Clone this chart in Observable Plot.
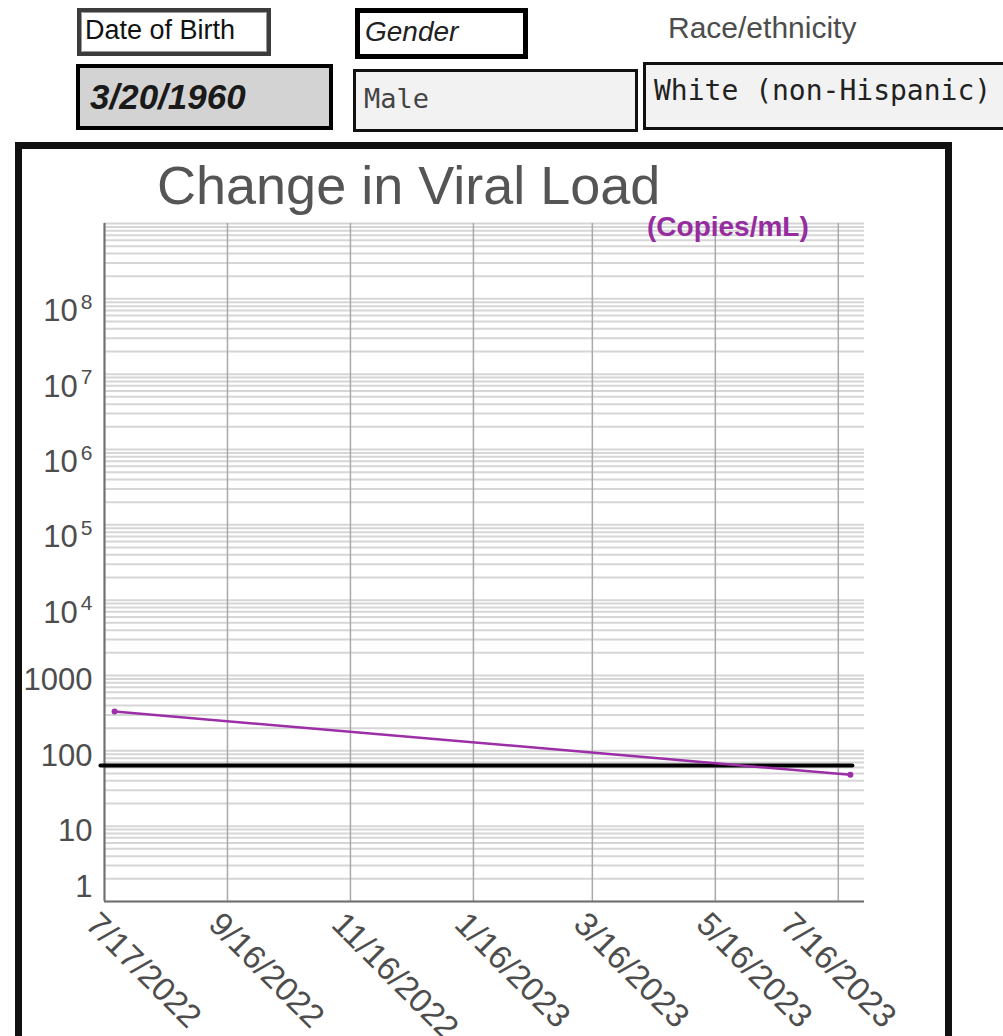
<!DOCTYPE html>
<html>
<head>
<meta charset="utf-8">
<script src="https://cdn.jsdelivr.net/npm/d3@7"></script>
<script src="https://cdn.jsdelivr.net/npm/@observablehq/plot@0.6"></script>
<style>
  body { margin: 0; background: #fff; }
  #page { position: relative; width: 1003px; height: 1036px; overflow: hidden; font-family: "Liberation Sans", Arial, sans-serif; }
  .box { position: absolute; box-sizing: border-box; }
  .t { position: absolute; white-space: nowrap; line-height: 1; }
  .mono { font-family: "DejaVu Sans Mono", "Liberation Mono", monospace; }
  #chart { position: absolute; left: 0; top: 0; }
  #frame { position: absolute; left: 15px; top: 142px; width: 937px; height: 930px; box-sizing: border-box; border: 7px solid #111; pointer-events: none; z-index: 5; }
</style>
</head>
<body>
<div id="page">
  <div class="box" style="left:77px;top:8px;width:194px;height:48px;border:4px solid #3c3c3c;box-shadow:inset 0 0 0 1px #9a9a9a;background:#fff;"></div>
  <div class="box" style="left:355px;top:8px;width:173px;height:51px;border:5px solid #000;background:#fff;"></div>
  <div class="box" style="left:76px;top:64px;width:257px;height:66px;border:4px solid #000;background:#d3d3d3;"></div>
  <div class="box" style="left:353px;top:69px;width:285px;height:63px;border:3px solid #111;background:#f2f2f2;"></div>
  <div class="box" style="left:643px;top:62px;width:370px;height:68px;border:3px solid #111;background:#f2f2f2;"></div>
  <div id="hdr"></div>
  <div id="chart"></div>
  <div class="t" id="title" style="left:157px;top:158px;font-size:54px;color:#555;"></div>
  <div class="t" id="unit" style="left:647px;top:213px;font-size:28px;font-weight:bold;color:#952c9f;"></div>
  <div id="frame"></div>
</div>
<script>
// ---- header fields ----
const fieldLabels = ["Date of Birth", "Gender", "Race/ethnicity"];
const fieldValues = ["3/20/1960", "Male", "White (non-Hispanic)"];

// ---- chart text ----
const chartTitle = "Change in Viral Load";
const unitLabel = "(Copies/mL)";

// ---- data ----
const visitDates = ["2022-07-22", "2023-07-22"];
const viralLoad = [333, 48];
const thresholdDates = ["2022-07-15", "2023-07-23"];
const thresholdLoad = [64, 64];

// ---- axes ----
const xDomain = ["2022-07-17", "2023-07-29"];
const xTickDates = ["2022-07-17", "2022-09-16", "2022-11-16", "2023-01-16", "2023-03-16", "2023-05-16", "2023-07-16"];
const yDomain = [1, 1e9];
const yTickValues = [10, 100, 1000, 1e4, 1e5, 1e6, 1e7, 1e8];
const yTickLabels = ["10", "100", "1000", "10^4", "10^5", "10^6", "10^7", "10^8"];
const yBottomTick = [1];
const yBottomLabel = ["1"];

// header text
const hdr = document.getElementById("hdr");
const hdrSpecs = [
  [fieldLabels[0], "left:85px;top:17px;font-size:27px;color:#111;"],
  [fieldLabels[1], "left:365px;top:18px;font-size:28px;font-style:italic;color:#222;"],
  [fieldLabels[2], "left:668px;top:13px;font-size:30px;color:#4d4d4d;"],
  [fieldValues[0], "left:90px;top:79px;font-size:35px;font-weight:bold;font-style:italic;color:#1a1a1a;"],
  [fieldValues[1], "left:364px;top:85px;font-size:27px;color:#444;", "mono"],
  [fieldValues[2], "left:654px;top:77px;font-size:28px;color:#222;", "mono"]
];
for (const [txt, css, cls] of hdrSpecs) {
  const d = document.createElement("div");
  d.className = "t" + (cls ? " " + cls : "");
  d.style.cssText = css;
  d.textContent = txt;
  hdr.appendChild(d);
}
document.getElementById("title").textContent = chartTitle;
document.getElementById("unit").textContent = unitLabel;

const parse = s => new Date(s + "T00:00:00Z");
const visits = visitDates.map((d, i) => ({date: parse(d), value: viralLoad[i]}));
const threshold = thresholdDates.map((d, i) => ({date: parse(d), value: thresholdLoad[i]}));
const xTicks = xTickDates.map(parse);
const fmtDate = d => `${d.getUTCMonth() + 1}/${d.getUTCDate()}/${d.getUTCFullYear()}`;
const yLabelOf = v => yTickLabels[yTickValues.indexOf(v)];

const xLabelOpts = {tickSize: 0, tickPadding: 17, tickRotate: 45, textAnchor: "start", lineAnchor: "middle", fontSize: 33, label: null, tickFormat: fmtDate, fill: "#4d4d4d"};

const chart = Plot.plot({
  width: 1003,
  height: 1036,
  marginLeft: 104,
  marginRight: 139,
  marginTop: 223,
  marginBottom: 135,
  style: {background: "transparent", overflow: "visible", fontFamily: "Liberation Sans, Arial, sans-serif", color: "#4d4d4d"},
  x: {type: "utc", domain: xDomain.map(parse), label: null},
  y: {type: "log", domain: yDomain, label: null},
  marks: [
    Plot.gridY({ticks: 20, stroke: "#d6d6d6", strokeOpacity: 1, strokeWidth: 2}),
    Plot.gridX(xTicks, {stroke: "#a9a9a9", strokeOpacity: 1, strokeWidth: 1.5}),
    Plot.ruleX([parse(xDomain[0])], {stroke: "#707070", strokeWidth: 2}),
    Plot.ruleY([yDomain[0]], {stroke: "#707070", strokeWidth: 2}),
    Plot.line(threshold, {x: "date", y: "value", stroke: "#000", strokeWidth: 4}),
    Plot.line(visits, {x: "date", y: "value", stroke: "#9c2ea8", strokeWidth: 2.5}),
    Plot.dot(visits, {x: "date", y: "value", r: 3, fill: "#9c2ea8"}),
    Plot.axisY(yTickValues, {tickSize: 0, tickPadding: 12, fontSize: 31, dy: 5, label: null, tickFormat: yLabelOf, fill: "#4d4d4d"}),
    Plot.axisY(yBottomTick, {tickSize: 0, tickPadding: 12, fontSize: 31, dy: -14, label: null, tickFormat: () => yBottomLabel[0], fill: "#4d4d4d"}),
    Plot.axisX(xTicks.slice(0, -1), {...xLabelOpts, dx: -13}),
    Plot.axisX(xTicks.slice(-1), {...xLabelOpts, dx: -52})
  ]
});

// superscript exponents on the y tick labels
d3.select(chart).selectAll('g[aria-label="y-axis tick label"] text').each(function() {
  const s = this.textContent;
  if (s.includes("^")) {
    const [b, e] = s.split("^");
    const t = d3.select(this);
    t.text(null);
    t.append("tspan").attr("dy", 7.7).text(b);
    t.append("tspan").attr("dy", -12.4).attr("dx", 3).attr("font-size", 21).text(e);
  }
});

document.getElementById("chart").appendChild(chart);
</script>
</body>
</html>
